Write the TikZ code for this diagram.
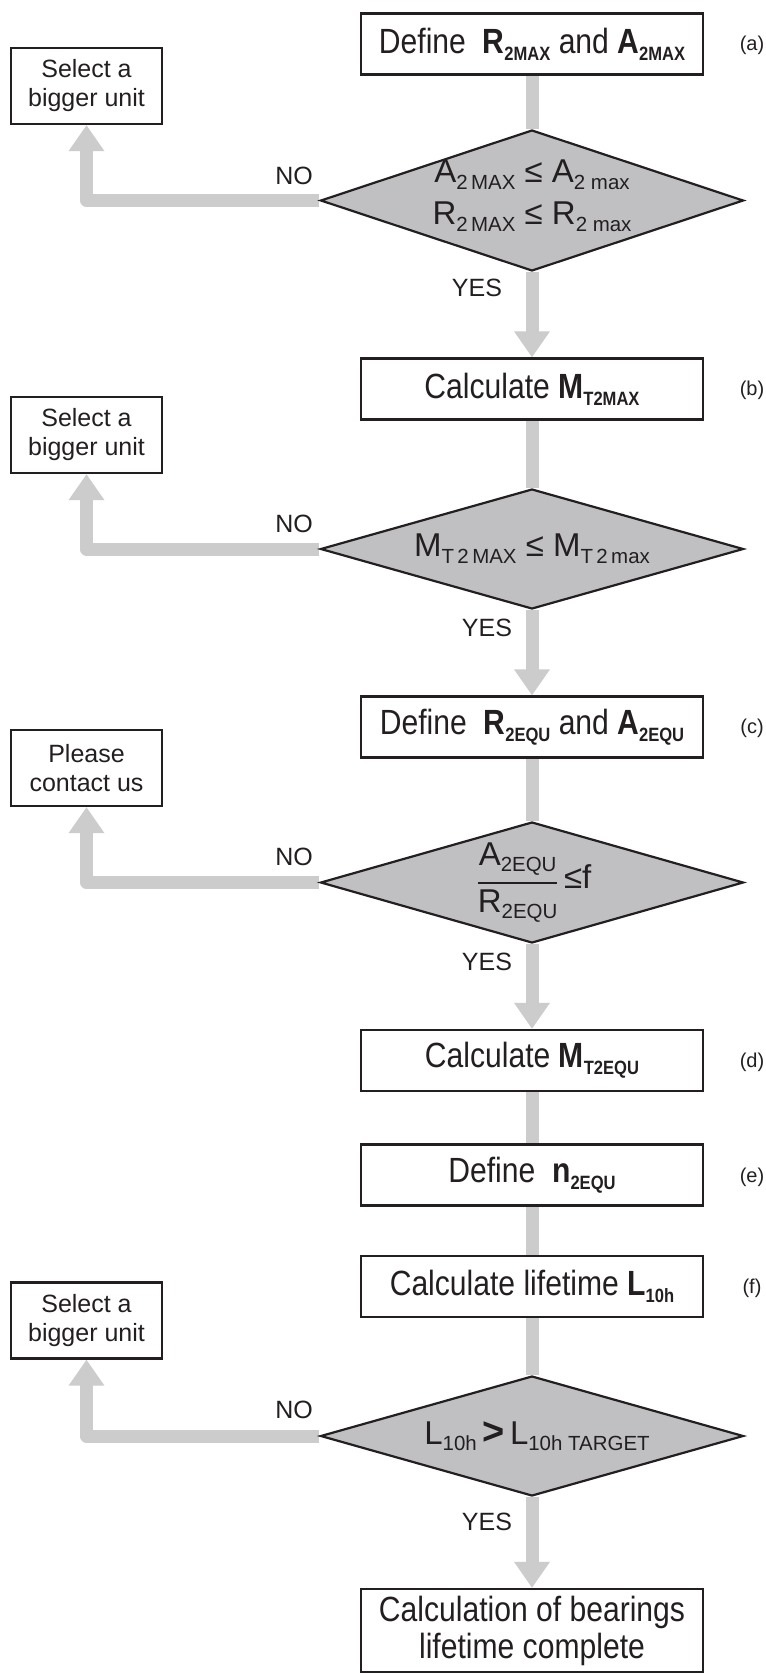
\documentclass[tikz,border=0pt]{standalone}
\usepackage{fontspec}
\usepackage{graphicx}
\usepackage{amsmath}
\setmainfont{Liberation Sans}
\newfontfamily\boxfont[FakeStretch=0.86]{Liberation Sans}
\usetikzlibrary{shapes.geometric,arrows.meta}
\definecolor{conngray}{RGB}{204,204,204}
\definecolor{dfill}{RGB}{192,192,194}
\definecolor{ink}{RGB}{35,31,32}
\newcommand\sbs[2][0.55]{\raisebox{-0.2em}{\scalebox{#1}{#2}}}
\pgfdeclarelayer{bg}
\pgfsetlayers{bg,main}
\begin{document}
\begin{tikzpicture}[x=1pt,y=-1pt,
  mainbox/.style={draw=ink, line width=2.2pt, minimum width=342pt, minimum height=61pt, inner sep=0pt, font=\boxfont\fontsize{35}{40}\selectfont, text=ink, align=center, fill=white},
  sidebox/.style={draw=ink, line width=2.2pt, minimum width=151pt, minimum height=76pt, inner sep=0pt, font=\fontsize{25}{29}\selectfont, align=center, text=ink, fill=white},
  decision/.style={diamond, draw=ink, line width=2.2pt, fill=dfill, minimum width=423pt, minimum height=120pt, inner sep=0pt},
  dtext/.style={font=\fontsize{33}{42}\selectfont, text=ink, align=center, inner sep=0pt},
  lbl/.style={font=\fontsize{25}{29}\selectfont, text=ink, inner sep=0pt},
  tag/.style={font=\fontsize{20}{23}\selectfont, text=ink, inner sep=0pt},
  link/.style={draw=conngray, line width=13pt, line join=round},
  arr/.style={link, -{Triangle[length=26pt, width=34pt]}},
]
\begin{pgfonlayer}{bg}
\fill[white] (0,0) rectangle (766,1674);
\end{pgfonlayer}
\useasboundingbox (0,0) rectangle (766,1674);

% main column
\node[mainbox] (a) at (532,44) {Define\ \ \textbf{R\sbs{2MAX}} and \textbf{A\sbs{2MAX}}};
\node[decision, minimum height=141pt] (d1) at (532,200.5) {};
\node[dtext] (d1t) at (532,196) {A\sbs[0.62]{2\,MAX} ≤ A\sbs[0.62]{2 max}\\R\sbs[0.62]{2\,MAX} ≤ R\sbs[0.62]{2 max}};
\node[mainbox] (b) at (532,389) {Calculate \textbf{M\sbs{T2MAX}}};
\node[decision] (d2) at (532,549) {};
\node[dtext] (d2t) at (532,549) {M\sbs[0.62]{T\,2\,MAX} ≤ M\sbs[0.62]{T\,2\,max}};
\node[mainbox] (c) at (532,727) {Define\ \ \textbf{R\sbs{2EQU}} and \textbf{A\sbs{2EQU}}};
\node[decision, minimum height=121pt] (d3) at (532,882.5) {};
\node[dtext] (d3t) at (534,882.5) {$\genfrac{}{}{2pt}{0}{\mbox{A\sbs[0.62]{2EQU}}}{\mbox{R\sbs[0.62]{2EQU}}}$\,≤f};
\node[mainbox] (d) at (532,1060.5) {Calculate \textbf{M\sbs{T2EQU}}};
\node[mainbox] (e) at (532,1175) {Define\ \ \textbf{n\sbs{2EQU}}};
\node[mainbox] (f) at (532,1286.5) {Calculate lifetime \textbf{L\sbs{10h}}};
\node[decision] (d4) at (532,1436) {};
\node[dtext] (d4t) at (537,1436) {L\sbs[0.62]{10h}\,{\bfseries\scalebox{1.15}{>}}\,L\sbs[0.62]{10h TARGET}};
\node[mainbox, minimum height=83pt, font=\boxfont\fontsize{35}{37}\selectfont] (g) at (532,1630.5) {Calculation of bearings\\lifetime complete};

% side boxes
\node[sidebox] (s1) at (86.5,86) {Select a\\bigger unit};
\node[sidebox] (s2) at (86.5,435) {Select a\\bigger unit};
\node[sidebox] (s3) at (86.5,768) {Please\\contact us};
\node[sidebox] (s4) at (86.5,1320.5) {Select a\\bigger unit};

% tags
\node[tag] (ta) at (752,45) {(a)};
\node[tag] (tb) at (752,390) {(b)};
\node[tag] (tc) at (752,728) {(c)};
\node[tag] (td) at (752,1062) {(d)};
\node[tag] (te) at (752,1177) {(e)};
\node[tag] (tf) at (752,1288) {(f)};

% NO / YES labels
\node[lbl] (no1) at (294,176) {NO};
\node[lbl] (no2) at (294,524) {NO};
\node[lbl] (no3) at (294,857) {NO};
\node[lbl] (no4) at (294,1410) {NO};
\node[lbl] (yes1) at (477,288) {YES};
\node[lbl] (yes2) at (487,628) {YES};
\node[lbl] (yes3) at (487,962) {YES};
\node[lbl] (yes4) at (487,1522) {YES};

\begin{pgfonlayer}{bg}
\draw[link] (a) -- (d1);
\draw[arr] (d1) -- (b);
\draw[link] (b) -- (d2);
\draw[arr] (d2) -- (c);
\draw[link] (c) -- (d3);
\draw[arr] (d3) -- (d);
\draw[link] (d) -- (e);
\draw[link] (e) -- (f);
\draw[link] (f) -- (d4);
\draw[arr] (d4) -- (g);
\draw[arr] (d1) -| (s1);
\draw[arr] (d2) -| (s2);
\draw[arr] (d3) -| (s3);
\draw[arr] (d4) -| (s4);
\end{pgfonlayer}
\end{tikzpicture}
\end{document}
